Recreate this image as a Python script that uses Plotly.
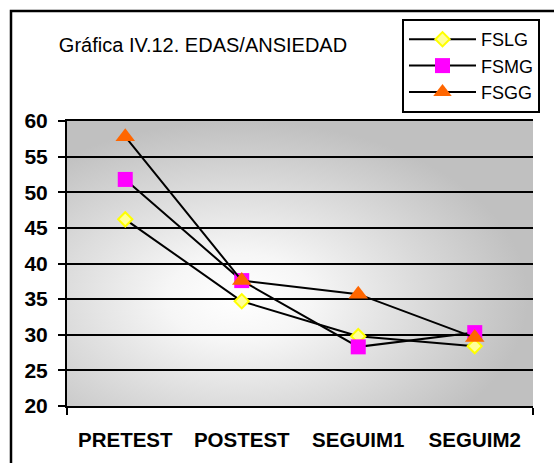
import base64
import plotly.graph_objects as go

# Measurement occasions and group means
categories = ["PRETEST", "POSTEST", "SEGUIM1", "SEGUIM2"]
fslg = [46.2, 34.7, 29.8, 28.4]
fsmg = [51.8, 37.6, 28.3, 30.3]
fsgg = [57.8, 37.6, 35.7, 29.6]
y_ticks = [20, 25, 30, 35, 40, 45, 50, 55, 60]

FONT = "Liberation Sans, Arial, sans-serif"

# Plot area layout in pixels (window is 554 x 463)
W, H = 554, 463
L, R, T, B = 67, 21, 121, 57
pw, ph = W - L - R, H - T - B

def px_x(v):
    return (v - L) / pw

def px_y(v):
    return (H - B - v) / ph

x_idx = list(range(len(categories)))

series = [
    ("FSLG", fslg, dict(symbol="diamond", size=11, color="#ffff99",
                        line=dict(color="#ffff00", width=2))),
    ("FSMG", fsmg, dict(symbol="square", size=15, color="#ff00ff",
                        line=dict(width=0))),
    ("FSGG", fsgg, dict(symbol="triangle-up", size=17, color="#ff6600",
                        line=dict(width=0))),
]

fig = go.Figure()
for name, vals, marker in series:
    fig.add_trace(go.Scatter(
        x=x_idx, y=vals, name=name, mode="lines+markers",
        line=dict(color="black", width=2),
        marker=marker,
    ))

# Radial grey-to-white backdrop for the plotting area
svg = (
    '<svg xmlns="http://www.w3.org/2000/svg" width="466" height="285" '
    'viewBox="0 0 466 285" preserveAspectRatio="none">'
    '<defs><radialGradient id="g" cx="0.37" cy="0.62" r="0.62">'
    '<stop offset="0" stop-color="#ffffff"/>'
    '<stop offset="0.25" stop-color="#f6f6f6"/>'
    '<stop offset="1" stop-color="#c0c0c0"/>'
    '</radialGradient></defs>'
    '<rect width="466" height="285" fill="url(#g)"/></svg>'
)
src = "data:image/svg+xml;base64," + base64.b64encode(svg.encode()).decode()

fig.update_layout(
    width=W, height=H,
    margin=dict(l=L, r=R, t=T, b=B, pad=0, autoexpand=False),
    paper_bgcolor="white",
    plot_bgcolor="rgba(0,0,0,0)",
    images=[dict(source=src, xref="paper", yref="paper", x=0, y=1,
                 sizex=1, sizey=1, sizing="stretch", layer="below",
                 xanchor="left", yanchor="top")],
    title=dict(text="Gráfica IV.12. EDAS/ANSIEDAD",
               font=dict(family=FONT, size=20, color="black"),
               x=203 / W, xanchor="center", y=1 - 45 / H, yanchor="middle"),
    legend=dict(
        x=px_x(402), xanchor="left", y=px_y(19), yanchor="top",
        bgcolor="white", bordercolor="black", borderwidth=2,
        font=dict(family=FONT, size=18, color="black"),
        tracegroupgap=0, itemwidth=67,
        entrywidth=130, entrywidthmode="pixels",
    ),
    showlegend=True,
    shapes=[dict(type="rect", xref="paper", yref="paper",
                 x0=px_x(11), x1=px_x(W + 20), y0=px_y(H + 20), y1=px_y(11),
                 line=dict(color="black", width=2.5), layer="above")],
)

fig.update_xaxes(
    range=[-0.5, len(categories) - 0.5],
    tickmode="array", tickvals=x_idx, ticktext=categories,
    ticks="", showgrid=False, zeroline=False,
    showline=True, linecolor="black", linewidth=2, mirror=True,
    tickfont=dict(family=FONT, size=20.5, color="black", weight="bold"),
    ticklabelstandoff=14,
    minor=dict(tickmode="array", tickvals=[-0.5, len(categories) - 0.5],
               ticks="outside", ticklen=7, tickwidth=2, tickcolor="black",
               showgrid=False),
)
fig.update_yaxes(
    range=[20, 60], tickmode="array", tickvals=y_ticks,
    ticks="outside", ticklen=7, tickwidth=2, tickcolor="black",
    showgrid=True, gridcolor="black", gridwidth=2, zeroline=False,
    showline=True, linecolor="black", linewidth=2,
    tickfont=dict(family=FONT, size=21, color="black", weight="bold"),
    ticklabelstandoff=6,
)

fig.write_html("out.html")
